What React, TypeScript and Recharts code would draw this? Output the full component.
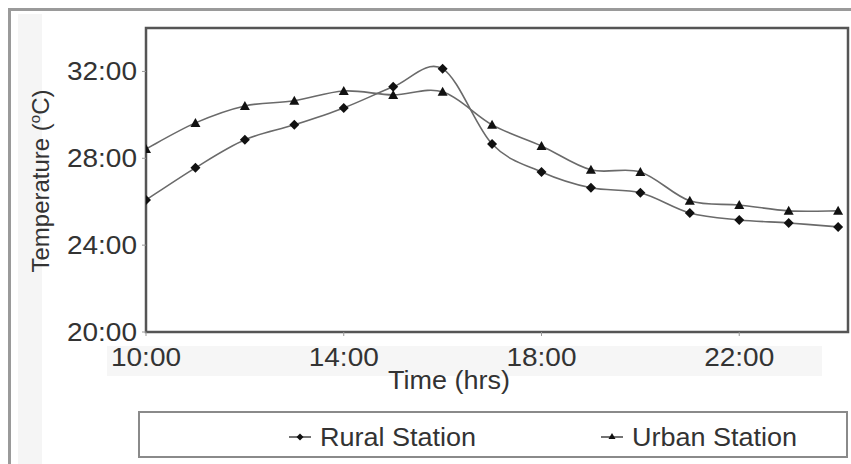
import React from 'react';
import { LineChart, Line, XAxis, YAxis, ReferenceArea } from 'recharts';

const hours = [10, 11, 12, 13, 14, 15, 16, 17, 18, 19, 20, 21, 22, 23, 24];
const rural = [26.08, 27.56, 28.85, 29.54, 30.32, 31.29, 32.12, 28.66, 27.37, 26.64, 26.41, 25.48, 25.16, 25.02, 24.84];
const urban = [28.43, 29.63, 30.41, 30.65, 31.1, 30.92, 31.06, 29.54, 28.57, 27.47, 27.37, 26.04, 25.85, 25.58, 25.58];
const xTicks = [10, 14, 18, 22];
const yTicks = [20, 24, 28, 32];
const seriesNames = ['Rural Station', 'Urban Station'];

const data = hours.map((h, i) => ({ hour: h, rural: rural[i], urban: urban[i] }));

const FONT = '"Liberation Sans", Arial, sans-serif';
const TEXT = '#333';
const LINE = '#6a6a6a';
const SX = 1.12;
const SX2 = 1.08;

// Excel-like smooth curve (Catmull-Rom / cardinal tension 0)
const smoothCurve = (context: any) => {
  let pts: number[][] = [];
  return {
    areaStart() {},
    areaEnd() {},
    lineStart() { pts = []; },
    point(x: number, y: number) { pts.push([+x, +y]); },
    lineEnd() {
      if (!pts.length) return;
      context.moveTo(pts[0][0], pts[0][1]);
      for (let i = 0; i < pts.length - 1; i++) {
        const p0 = pts[i - 1] || pts[i];
        const p1 = pts[i];
        const p2 = pts[i + 1];
        const p3 = pts[i + 2] || pts[i + 1];
        context.bezierCurveTo(
          p1[0] + (p2[0] - p0[0]) / 6, p1[1] + (p2[1] - p0[1]) / 6,
          p2[0] - (p3[0] - p1[0]) / 6, p2[1] - (p3[1] - p1[1]) / 6,
          p2[0], p2[1]
        );
      }
    },
  };
};

const Diamond = (props: any) => {
  const { cx, cy } = props;
  if (cx == null || cy == null) return null;
  const r = 5;
  return <polygon key={`d${cx}`} points={`${cx},${cy - r} ${cx + r},${cy} ${cx},${cy + r} ${cx - r},${cy}`} fill="#111" />;
};

const Triangle = (props: any) => {
  const { cx, cy } = props;
  if (cx == null || cy == null) return null;
  const r = 5;
  return <polygon key={`t${cx}`} points={`${cx},${cy - r} ${cx + r},${cy + r * 0.8} ${cx - r},${cy + r * 0.8}`} fill="#111" />;
};

const XTick = (props: any) => {
  const { x, y, payload } = props;
  return (
    <text transform={`translate(${x},${y + 28}) scale(${SX},1)`} textAnchor="middle" fontSize={25} fontFamily={FONT} fill={TEXT}>
      {`${payload.value}:00`}
    </text>
  );
};

const YTick = (props: any) => {
  const { x, y, payload } = props;
  return (
    <text transform={`translate(${x - 3},${y + 9}) scale(${SX},1)`} textAnchor="end" fontSize={25} fontFamily={FONT} fill={TEXT}>
      {`${payload.value}:00`}
    </text>
  );
};

const LegendItem = ({ kind, label }: { kind: 'd' | 't'; label: string }) => (
  <span style={{ display: 'inline-flex', alignItems: 'center', whiteSpace: 'nowrap' }}>
    <svg width={24} height={12} style={{ marginRight: 8 }}>
      <line x1={1} y1={6} x2={23} y2={6} stroke="#444" strokeWidth={1.5} />
      {kind === 'd'
        ? <polygon points="12,2.5 15.5,6 12,9.5 8.5,6" fill="#111" />
        : <polygon points="12,2 15.5,8 8.5,8" fill="#111" />}
    </svg>
    <span style={{ display: 'inline-block', transform: `scaleX(${SX2})`, transformOrigin: 'left center' }}>{label}</span>
  </span>
);

export default function App() {
  return (
    <div style={{ position: 'absolute', left: 0, top: 0, width: 851, height: 464, background: '#fff', overflow: 'hidden', fontFamily: FONT }}>
      {/* faint background bands */}
      <div style={{ position: 'absolute', left: 18, top: 14, width: 24, height: 450, background: '#f5f5f5' }} />
      <div style={{ position: 'absolute', left: 107, top: 346, width: 715, height: 30, background: '#f6f6f6' }} />
      {/* outer frame */}
      <div style={{ position: 'absolute', left: 8, top: 8, width: 843, height: 3, background: '#9a9a9a' }} />
      <div style={{ position: 'absolute', left: 8, top: 8, width: 3, height: 456, background: '#9a9a9a' }} />
      <div style={{ position: 'absolute', left: 0, top: 0 }}>
        <LineChart width={851} height={464} data={data} margin={{ top: 28, right: 3, left: 0, bottom: 0 }}>
          <XAxis
            dataKey="hour"
            type="number"
            domain={[10, 24.2]}
            ticks={xTicks}
            tick={<XTick />}
            tickLine={{ stroke: '#999' }}
            tickSize={4}
            axisLine={false}
            height={132}
            allowDataOverflow
            label={{
              content: () => (
                <text transform={`translate(449,389) scale(${SX2},1)`} textAnchor="middle" fontSize={25} fontFamily={FONT} fill={TEXT}>Time (hrs)</text>
              ),
            }}
          />
          <YAxis
            type="number"
            domain={[20, 34]}
            ticks={yTicks}
            tick={<YTick />}
            tickLine={{ stroke: '#999' }}
            tickSize={4}
            axisLine={false}
            width={146}
            allowDataOverflow
            label={{
              content: () => (
                <text transform="translate(49,181) rotate(-90)" textAnchor="middle" fontSize={24} fontFamily={FONT} fill={TEXT}>
                  Temperature (<tspan fontSize={15} dy={-9}>o</tspan><tspan dy={9}>C)</tspan>
                </text>
              ),
            }}
          />
          <ReferenceArea x1={10} x2={24.2} y1={20} y2={34} fill="none" stroke="#555" strokeWidth={2.5} />
          <Line
            dataKey="rural"
            name={seriesNames[0]}
            type={smoothCurve as any}
            stroke={LINE}
            strokeWidth={1.6}
            dot={<Diamond />}
            activeDot={false}
            isAnimationActive={false}
          />
          <Line
            dataKey="urban"
            name={seriesNames[1]}
            type={smoothCurve as any}
            stroke={LINE}
            strokeWidth={1.6}
            dot={<Triangle />}
            activeDot={false}
            isAnimationActive={false}
          />
        </LineChart>
      </div>
      {/* legend */}
      <div style={{ position: 'absolute', left: 138, top: 411, width: 706, height: 43, border: '2px solid #8a8a8a', background: '#fff', fontSize: 25, color: TEXT }}>
        <div style={{ position: 'absolute', left: 148, top: 7 }}><LegendItem kind="d" label={seriesNames[0]} /></div>
        <div style={{ position: 'absolute', left: 460, top: 7 }}><LegendItem kind="t" label={seriesNames[1]} /></div>
      </div>
    </div>
  );
}
